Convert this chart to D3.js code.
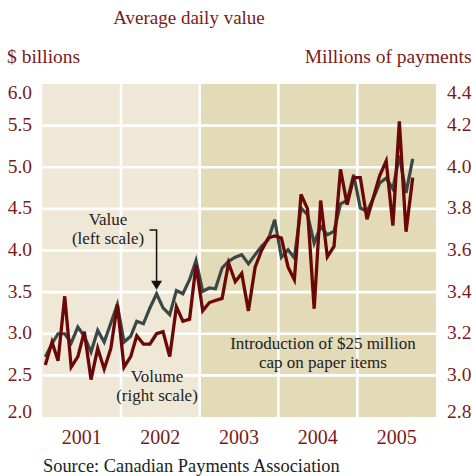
<!DOCTYPE html>
<html>
<head>
  <meta charset="utf-8">
  <script src="https://cdn.jsdelivr.net/npm/d3@7/dist/d3.min.js"></script>
  <style>
    body { margin: 0; background: #fff; }
    text { font-family: "Liberation Serif", "Times New Roman", serif; }
    .red-text { fill: #7a1a1a; }
    .note { fill: #222; font-size: 17px; }
  </style>
</head>
<body>
  <svg id="chart"></svg>
  <script>
    // monthly data, Jan 2001 - Sep 2005
    var years = [2001, 2002, 2003, 2004, 2005];
    var shadedYears = [2003, 2004, 2005];
    var valueTicks = [2.0, 2.5, 3.0, 3.5, 4.0, 4.5, 5.0, 5.5, 6.0];
    var volumeTicks = [2.8, 3.0, 3.2, 3.4, 3.6, 3.8, 4.0, 4.2, 4.4];

    // average daily value, $ billions (left scale)
    var value = [
      2.72, 2.88, 3.00, 3.00, 2.89, 3.08, 2.97, 2.78, 3.04, 2.90, 3.13, 3.35,
      2.90, 2.97, 3.15, 3.12, 3.31, 3.48, 3.31, 3.23, 3.52, 3.48, 3.65, 3.88,
      3.51, 3.55, 3.54, 3.79, 3.87, 3.92, 3.95, 3.84, 3.95, 4.05, 4.13, 4.37,
      3.92, 4.01, 3.91, 4.51, 4.43, 4.09, 4.29, 4.19, 4.23, 4.56, 4.60, 4.91,
      4.51, 4.47, 4.62, 4.81, 4.87, 4.74, 5.14, 4.69, 5.10
    ];
    // average daily volume, millions of payments (right scale)
    var volume = [
      3.05, 3.16, 3.07, 3.38, 3.04, 3.09, 3.21, 2.98, 3.13, 3.03, 3.13, 3.34,
      3.04, 3.09, 3.19, 3.15, 3.15, 3.20, 3.21, 3.09, 3.33, 3.26, 3.27, 3.53,
      3.31, 3.35, 3.36, 3.37, 3.54, 3.45, 3.49, 3.31, 3.52, 3.60, 3.66, 3.67,
      3.66, 3.52, 3.46, 3.87, 3.80, 3.32, 3.84, 3.57, 3.62, 3.99, 3.82, 3.95,
      3.95, 3.75, 3.85, 3.96, 4.03, 3.72, 4.22, 3.69, 3.95
    ];

    var W = 473, H = 476;
    var pLeft = 42.3, pRight = 436, pTop = 84, pBottom = 417;

    var svg = d3.select('#chart')
      .attr('width', W)
      .attr('height', H);

    var x = d3.scaleTime()
      .domain([new Date(2001, 0, 1), new Date(2006, 0, 1)])
      .range([pLeft, pRight]);
    var yL = d3.scaleLinear().domain([2, 6]).range([pBottom, pTop]);
    var yR = d3.scaleLinear().domain([2.8, 4.4]).range([pBottom, pTop]);

    var dates = value.map((d, i) => new Date(2001, i, 15));

    // year background panels
    svg.selectAll('rect.year')
      .data(years)
      .enter()
      .append('rect')
      .attr('class', 'year')
      .attr('x', d => x(new Date(d, 0, 1)))
      .attr('y', pTop)
      .attr('width', d => x(new Date(d + 1, 0, 1)) - x(new Date(d, 0, 1)))
      .attr('height', pBottom - pTop)
      .style('fill', d => shadedYears.indexOf(d) >= 0 ? '#e3dab7' : '#efe8d6');

    // white grid
    svg.selectAll('line.hgrid')
      .data(valueTicks.slice(1, -1))
      .enter()
      .append('line')
      .attr('x1', pLeft).attr('x2', pRight)
      .attr('y1', d => yL(d)).attr('y2', d => yL(d))
      .style('stroke', '#fff')
      .style('stroke-width', 2.6);

    svg.selectAll('line.vgrid')
      .data(years.slice(1))
      .enter()
      .append('line')
      .attr('x1', d => x(new Date(d, 0, 1))).attr('x2', d => x(new Date(d, 0, 1)))
      .attr('y1', pTop).attr('y2', pBottom)
      .style('stroke', '#fff')
      .style('stroke-width', 2.6);

    // lines
    var valueLine = d3.line()
      .x((d, i) => x(dates[i]))
      .y(d => yL(d));
    var volumeLine = d3.line()
      .x((d, i) => x(dates[i]))
      .y(d => yR(d));

    svg.append('path')
      .datum(value)
      .attr('d', valueLine)
      .style('fill', 'none')
      .style('stroke', '#3a4746')
      .style('stroke-width', 3.2)
      .style('stroke-linejoin', 'miter');

    svg.append('path')
      .datum(volume)
      .attr('d', volumeLine)
      .style('fill', 'none')
      .style('stroke', '#6a0808')
      .style('stroke-width', 3.3)
      .style('stroke-linejoin', 'miter');

    // tick labels
    function tickDy(i, n) {
      if (i === 0) return -6;
      if (i === n - 1) return 8;
      return -1;
    }

    svg.selectAll('text.lt')
      .data(valueTicks)
      .enter()
      .append('text')
      .attr('class', 'red-text')
      .attr('x', 32)
      .attr('y', (d, i) => yL(d) + tickDy(i, valueTicks.length))
      .attr('dominant-baseline', 'central')
      .attr('text-anchor', 'end')
      .style('font-size', '19.5px')
      .text(d => d3.format('.1f')(d));

    svg.selectAll('text.rt')
      .data(volumeTicks)
      .enter()
      .append('text')
      .attr('class', 'red-text')
      .attr('x', 447)
      .attr('y', (d, i) => yR(d) + tickDy(i, volumeTicks.length))
      .attr('dominant-baseline', 'central')
      .attr('text-anchor', 'start')
      .style('font-size', '19.5px')
      .text(d => d3.format('.1f')(d));

    svg.selectAll('text.yr')
      .data(years)
      .enter()
      .append('text')
      .attr('class', 'red-text')
      .attr('x', d => (x(new Date(d, 0, 1)) + x(new Date(d + 1, 0, 1))) / 2)
      .attr('y', 444)
      .attr('text-anchor', 'middle')
      .style('font-size', '20px')
      .text(d => d);

    // titles
    svg.append('text')
      .attr('class', 'red-text')
      .attr('x', 189).attr('y', 24)
      .attr('text-anchor', 'middle')
      .style('font-size', '19px')
      .text('Average daily value');

    svg.append('text')
      .attr('class', 'red-text')
      .attr('x', 7).attr('y', 63)
      .style('font-size', '19.5px')
      .text('$ billions');

    svg.append('text')
      .attr('class', 'red-text')
      .attr('x', 471.5).attr('y', 63)
      .attr('text-anchor', 'end')
      .style('font-size', '19.5px')
      .text('Millions of payments');

    svg.append('text')
      .attr('x', 43).attr('y', 472)
      .style('fill', '#222')
      .style('font-size', '18.4px')
      .text('Source: Canadian Payments Association');

    // annotations
    var ann = svg.append('g');
    ann.append('text').attr('class', 'note')
      .attr('x', 108).attr('y', 225).attr('text-anchor', 'middle').text('Value');
    ann.append('text').attr('class', 'note')
      .attr('x', 108).attr('y', 244).attr('text-anchor', 'middle').text('(left scale)');

    var arrowX = x(dates[17]);
    var tipY = yL(value[17]) - 4;
    ann.append('path')
      .attr('d', 'M' + (arrowX - 7) + ',230H' + arrowX + 'V' + (tipY - 8))
      .style('fill', 'none')
      .style('stroke', '#111')
      .style('stroke-width', 1.5);
    ann.append('path')
      .attr('d', 'M' + (arrowX - 5.5) + ',' + (tipY - 9) + 'L' + (arrowX + 5.5) + ',' + (tipY - 9) + 'L' + arrowX + ',' + tipY + 'Z')
      .style('fill', '#111');

    ann.append('text').attr('class', 'note')
      .attr('x', 157).attr('y', 382).attr('text-anchor', 'middle').text('Volume');
    ann.append('text').attr('class', 'note')
      .attr('x', 157).attr('y', 401).attr('text-anchor', 'middle').text('(right scale)');

    ann.append('text').attr('class', 'note')
      .attr('x', 323).attr('y', 349).attr('text-anchor', 'middle').text('Introduction of $25 million');
    ann.append('text').attr('class', 'note')
      .attr('x', 323).attr('y', 368).attr('text-anchor', 'middle').text('cap on paper items');
  </script>
</body>
</html>
